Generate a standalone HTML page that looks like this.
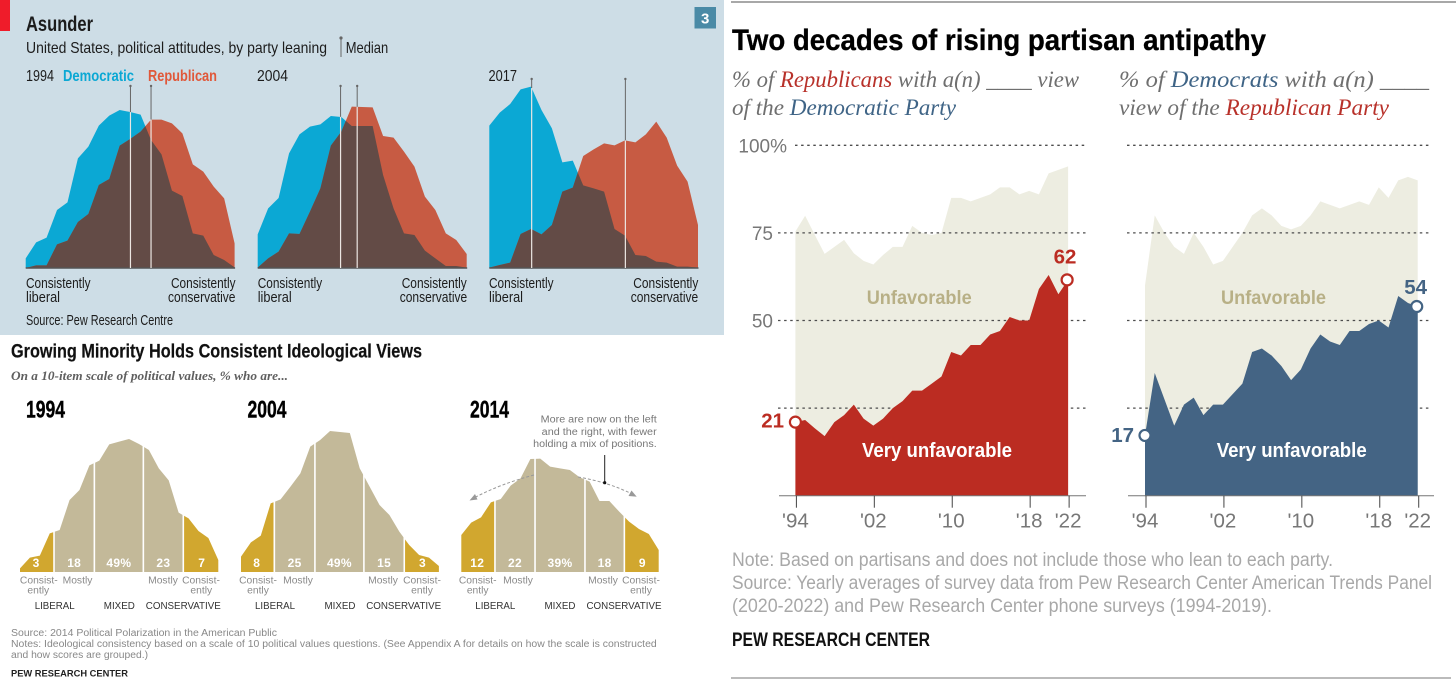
<!DOCTYPE html>
<html lang="en">
<head>
<meta charset="utf-8">
<title>Partisan polarization charts</title>
<style>
html,body{margin:0;padding:0;background:#fff;}
svg{display:block;position:absolute;left:0;top:0;}
.eco{font-family:"Liberation Sans Narrow","Liberation Sans",sans-serif;fill:#1c1c1c;}
.pew{font-family:"Liberation Sans",sans-serif;}
.sub{font-family:"Liberation Sans",sans-serif;font-size:10.3px;fill:#8a8a8a;text-anchor:middle;}
.cat{font-family:"Liberation Sans",sans-serif;font-size:9.8px;fill:#333;text-anchor:middle;}
.yr{font-family:"Liberation Sans Narrow","Liberation Sans",sans-serif;font-size:24px;font-weight:700;fill:#000;stroke:#000;stroke-width:0.4;}
.hd{font-family:"Liberation Serif",serif;font-style:italic;font-size:23px;fill:#6f6f6f;}
.note{font-family:"Liberation Sans Narrow","Liberation Sans",sans-serif;font-size:19px;fill:#a8a8a8;}
.lab{font-family:"Liberation Sans",sans-serif;}
</style>
</head>
<body>
<svg id="canvas" width="1456" height="679" viewBox="0 0 1456 679" xmlns="http://www.w3.org/2000/svg">
  <defs id="defs"></defs>

  <!-- Economist panel -->
  <rect x="0" y="0" width="724" height="335" fill="#cddde6"/>
  <rect x="0" y="0" width="10" height="31" fill="#ef1c2a"/>
  <rect x="694.5" y="7" width="21.5" height="21.5" fill="#4a8aa6"/>
  <text x="705.2" y="23.5" text-anchor="middle" class="eco" style="fill:#fff;font-weight:700;font-size:15px;">3</text>
  <text class="eco" x="26" y="31" font-size="21" font-weight="700" textLength="67" lengthAdjust="spacingAndGlyphs">Asunder</text>
  <text class="eco" x="26" y="53" font-size="16" textLength="301" lengthAdjust="spacingAndGlyphs">United States, political attitudes, by party leaning</text>
  <line x1="341" y1="38" x2="341" y2="57" stroke="#666" stroke-width="1"/>
  <circle cx="341" cy="38" r="1.6" fill="#666"/>
  <text class="eco" x="345.7" y="53" font-size="16" textLength="42.5" lengthAdjust="spacingAndGlyphs">Median</text>
  <text class="eco" x="26" y="81" font-size="16" textLength="28" lengthAdjust="spacingAndGlyphs">1994</text>
  <text class="eco" x="63" y="81" font-size="16" font-weight="700" textLength="71" lengthAdjust="spacingAndGlyphs" style="fill:#0ba8d4">Democratic</text>
  <text class="eco" x="148" y="81" font-size="16" font-weight="700" textLength="69" lengthAdjust="spacingAndGlyphs" style="fill:#e0583a">Republican</text>
  <text class="eco" x="257" y="81" font-size="16" textLength="31" lengthAdjust="spacingAndGlyphs">2004</text>
  <text class="eco" x="488.5" y="81" font-size="16" textLength="28.5" lengthAdjust="spacingAndGlyphs">2017</text>

  <g id="eco-marks"></g>

  <text class="eco" font-size="14.5" x="26" y="288" textLength="64.5" lengthAdjust="spacingAndGlyphs">Consistently</text>
  <text class="eco" font-size="14.5" x="26" y="302" textLength="34" lengthAdjust="spacingAndGlyphs">liberal</text>
  <text class="eco" font-size="14.5" x="171" y="288" textLength="64.5" lengthAdjust="spacingAndGlyphs">Consistently</text>
  <text class="eco" font-size="14.5" x="168" y="302" textLength="67.5" lengthAdjust="spacingAndGlyphs">conservative</text>
  <text class="eco" font-size="14.5" x="257.7" y="288" textLength="64.5" lengthAdjust="spacingAndGlyphs">Consistently</text>
  <text class="eco" font-size="14.5" x="257.7" y="302" textLength="34" lengthAdjust="spacingAndGlyphs">liberal</text>
  <text class="eco" font-size="14.5" x="401.7" y="288" textLength="65" lengthAdjust="spacingAndGlyphs">Consistently</text>
  <text class="eco" font-size="14.5" x="399.7" y="302" textLength="67.5" lengthAdjust="spacingAndGlyphs">conservative</text>
  <text class="eco" font-size="14.5" x="489" y="288" textLength="64.5" lengthAdjust="spacingAndGlyphs">Consistently</text>
  <text class="eco" font-size="14.5" x="489" y="302" textLength="34" lengthAdjust="spacingAndGlyphs">liberal</text>
  <text class="eco" font-size="14.5" x="633.3" y="288" textLength="65" lengthAdjust="spacingAndGlyphs">Consistently</text>
  <text class="eco" font-size="14.5" x="630.7" y="302" textLength="67.5" lengthAdjust="spacingAndGlyphs">conservative</text>
  <text class="eco" font-size="14.5" x="26" y="325" textLength="147" lengthAdjust="spacingAndGlyphs">Source: Pew Research Centre</text>

  <!-- Pew ideological panel -->
  <text x="11" y="357.5" font-family="'Liberation Sans Narrow','Liberation Sans',sans-serif" font-size="19" font-weight="700" fill="#111" stroke="#111" stroke-width="0.2" textLength="411" lengthAdjust="spacingAndGlyphs">Growing Minority Holds Consistent Ideological Views</text>
  <text x="11" y="380" font-family="'Liberation Serif',serif" font-style="italic" font-weight="700" font-size="12.5" fill="#5f5f5f" textLength="277" lengthAdjust="spacingAndGlyphs">On a 10-item scale of political values, % who are...</text>
  <text class="yr" x="26" y="417.5" textLength="39" lengthAdjust="spacingAndGlyphs">1994</text>
  <text class="yr" x="247.5" y="417.5" textLength="39" lengthAdjust="spacingAndGlyphs">2004</text>
  <text class="yr" x="470" y="417.5" textLength="39" lengthAdjust="spacingAndGlyphs">2014</text>

  <g id="ideo-marks"></g>

  <text class="pew" x="656.7" y="422.5" font-size="10" fill="#777" text-anchor="end" textLength="116" lengthAdjust="spacingAndGlyphs">More are now on the left</text>
  <text class="pew" x="656.7" y="435" font-size="10" fill="#777" text-anchor="end" textLength="115" lengthAdjust="spacingAndGlyphs">and the right, with fewer</text>
  <text class="pew" x="656.7" y="447" font-size="10" fill="#777" text-anchor="end" textLength="123.5" lengthAdjust="spacingAndGlyphs">holding a mix of positions.</text>
  <path d="M534 475 Q500 484 474 498" fill="none" stroke="#999" stroke-width="1" stroke-dasharray="3 2"/>
  <polygon points="469.5,500.5 475,494 477.5,499.5" fill="#999"/>
  <path d="M578 477 Q608 482 632 494" fill="none" stroke="#999" stroke-width="1" stroke-dasharray="3 2"/>
  <polygon points="636.7,496.7 628.5,496 631.5,490.5" fill="#999"/>
  <line x1="604.7" y1="455" x2="604.7" y2="482.7" stroke="#222" stroke-width="1"/>
  <circle cx="604.7" cy="482.7" r="1.6" fill="#111"/>

  <g>
    <text class="sub" x="38.8" y="583.5">Consist-</text>
    <text class="sub" x="38.3" y="593.5">ently</text>
    <text class="sub" x="77.5" y="583.5">Mostly</text>
    <text class="sub" x="163" y="583.5">Mostly</text>
    <text class="sub" x="201" y="583.5">Consist-</text>
    <text class="sub" x="201.3" y="593.5">ently</text>
    <text class="cat" x="54.7" y="609" textLength="40" lengthAdjust="spacingAndGlyphs">LIBERAL</text>
    <text class="cat" x="119.3" y="609" textLength="31" lengthAdjust="spacingAndGlyphs">MIXED</text>
    <text class="cat" x="183.3" y="609" textLength="75" lengthAdjust="spacingAndGlyphs">CONSERVATIVE</text>
  </g>
  <g>
    <text class="sub" x="258" y="583.5">Consist-</text>
    <text class="sub" x="258" y="593.5">ently</text>
    <text class="sub" x="298" y="583.5">Mostly</text>
    <text class="sub" x="383" y="583.5">Mostly</text>
    <text class="sub" x="422" y="583.5">Consist-</text>
    <text class="sub" x="422" y="593.5">ently</text>
    <text class="cat" x="275" y="609" textLength="40" lengthAdjust="spacingAndGlyphs">LIBERAL</text>
    <text class="cat" x="340" y="609" textLength="31" lengthAdjust="spacingAndGlyphs">MIXED</text>
    <text class="cat" x="403.7" y="609" textLength="75" lengthAdjust="spacingAndGlyphs">CONSERVATIVE</text>
  </g>
  <g>
    <text class="sub" x="477.7" y="583.5">Consist-</text>
    <text class="sub" x="477.7" y="593.5">ently</text>
    <text class="sub" x="518" y="583.5">Mostly</text>
    <text class="sub" x="603" y="583.5">Mostly</text>
    <text class="sub" x="641" y="583.5">Consist-</text>
    <text class="sub" x="641" y="593.5">ently</text>
    <text class="cat" x="495.3" y="609" textLength="40" lengthAdjust="spacingAndGlyphs">LIBERAL</text>
    <text class="cat" x="560" y="609" textLength="31" lengthAdjust="spacingAndGlyphs">MIXED</text>
    <text class="cat" x="624" y="609" textLength="75" lengthAdjust="spacingAndGlyphs">CONSERVATIVE</text>
  </g>

  <text class="pew" x="11" y="636" font-size="10" fill="#888" textLength="266" lengthAdjust="spacingAndGlyphs">Source: 2014 Political Polarization in the American Public</text>
  <text class="pew" x="11" y="647" font-size="10" fill="#888" textLength="645.7" lengthAdjust="spacingAndGlyphs">Notes: Ideological consistency based on a scale of 10 political values questions. (See Appendix A for details on how the scale is constructed</text>
  <text class="pew" x="11" y="658" font-size="10" fill="#888" textLength="137" lengthAdjust="spacingAndGlyphs">and how scores are grouped.)</text>
  <text class="pew" x="11" y="676.7" font-size="9.5" font-weight="700" fill="#222" textLength="117" lengthAdjust="spacingAndGlyphs">PEW RESEARCH CENTER</text>

  <!-- Antipathy panel -->
  <rect x="731" y="1" width="725" height="2" fill="#a8a8a8"/>
  <text x="732" y="50" font-family="'Liberation Sans Narrow','Liberation Sans',sans-serif" font-weight="700" font-size="30" fill="#000" stroke="#000" stroke-width="0.3" textLength="534" lengthAdjust="spacingAndGlyphs">Two decades of rising partisan antipathy</text>
  <text class="hd" x="732" y="87" textLength="347" lengthAdjust="spacingAndGlyphs">% of <tspan fill="#b8312a">Republicans</tspan> with a(n) ____ view</text>
  <text class="hd" x="732" y="115" textLength="224" lengthAdjust="spacingAndGlyphs">of the <tspan fill="#3f6486">Democratic Party</tspan></text>
  <text class="hd" x="1119" y="87" textLength="310" lengthAdjust="spacingAndGlyphs">% of <tspan fill="#3f6486">Democrats</tspan> with a(n) ____</text>
  <text class="hd" x="1119" y="115" textLength="270" lengthAdjust="spacingAndGlyphs">view of the <tspan fill="#b8312a">Republican Party</tspan></text>

  <g id="rep-chart"></g>
  <g id="dem-chart"></g>

  <text class="lab" x="866.7" y="304" font-size="19.5" font-weight="700" fill="#b8b086" textLength="105" lengthAdjust="spacingAndGlyphs">Unfavorable</text>
  <text class="lab" x="1221" y="304" font-size="19.5" font-weight="700" fill="#b8b086" textLength="105" lengthAdjust="spacingAndGlyphs">Unfavorable</text>
  <text class="lab" x="862" y="457" font-size="20" font-weight="700" fill="#fff" textLength="150" lengthAdjust="spacingAndGlyphs">Very unfavorable</text>
  <text class="lab" x="1216.7" y="457" font-size="20" font-weight="700" fill="#fff" textLength="150" lengthAdjust="spacingAndGlyphs">Very unfavorable</text>

  <text class="note" x="732" y="566" textLength="601" lengthAdjust="spacingAndGlyphs">Note: Based on partisans and does not include those who lean to each party.</text>
  <text class="note" x="732" y="589" textLength="700" lengthAdjust="spacingAndGlyphs">Source: Yearly averages of survey data from Pew Research Center American Trends Panel</text>
  <text class="note" x="732" y="612" textLength="540" lengthAdjust="spacingAndGlyphs">(2020-2022) and Pew Research Center phone surveys (1994-2019).</text>
  <text x="732" y="646" font-family="'Liberation Sans Narrow','Liberation Sans',sans-serif" font-size="19" font-weight="700" fill="#111" textLength="198" lengthAdjust="spacingAndGlyphs">PEW RESEARCH CENTER</text>
  <rect x="731" y="677" width="720" height="2" fill="#bbb"/>
</svg>

<script>
// Economist chart: share of respondents (%) at each of 21 positions on the ideology scale
const dem1994 = [0.58,1.54,1.82,3.48,3.94,6.58,7.28,8.54,9.14,9.48,9.36,9.2,7.68,6.82,4.64,4.32,2.08,1.94,0.78,0.48,0.04];
const rep1994 = [0,0.16,0.16,1.42,1.64,2.76,3.24,4.98,5.34,7.34,7.74,8.18,8.9,8.9,8.68,8.08,6.22,5.78,4.88,4.18,1.48];
const dem2004 = [2.02,3.58,4.2,6.88,8.02,8.48,8.62,9.12,9.06,8.52,8.52,8.52,5.58,3.58,2.08,1.98,1.04,0.58,0.12,0.12,0.02];
const rep2004 = [0.02,0.58,0.98,2.08,2.04,3.38,4.78,7.34,8.18,9.68,9.66,9.64,7.92,7.82,6.98,6.08,4.28,3.48,2.08,1.68,0.84];
const dem2017 = [8.54,9.32,9.84,10.72,10.88,9.48,8.38,6.34,6.44,4.96,4.78,4.58,2.34,1.94,0.78,0.72,0.38,0.32,0.08,0.08,0.02];
const rep2017 = [0.02,0.18,0.32,2.04,2.34,2.02,2.58,4.58,4.82,6.72,7.12,7.48,7.36,7.66,7.54,8.02,8.78,7.82,6.14,5.18,2.58];
const medians1994 = [10.03,12.0];
const medians2004 = [7.93,9.52];
const medians2017 = [4.06,13.04];

// Pew ideology chart: distribution on the same 21-step scale and the printed group shares
const ideo1994 = [0.22,0.86,0.98,2.32,2.52,4.32,4.92,6.4,6.68,7.66,7.82,7.98,7.68,7.32,6.22,5.5,3.56,3.22,2.46,2.04,0.72];
const ideo2004 = [0.92,1.78,2.18,4.12,4.36,5.12,5.92,7.52,7.92,8.46,8.4,8.34,6.22,5.12,4.02,3.42,2.42,1.62,1.02,0.86,0.36];
const ideo2014 = [2.22,2.96,3.28,4.18,4.38,5.18,5.62,6.78,6.8,6.32,6.22,6.12,5.68,5.42,4.26,4.26,3.62,3.02,2.58,2.28,1.32];
const splits1994 = [3.43,7.5,12.44,16.47];
const splits2004 = [3.37,7.47,12.42,16.5];
const splits2014 = [3.41,7.47,12.53,16.52];
const shares1994 = ['3','18','49%','23','7'];
const shares2004 = ['8','25','49%','15','3'];
const shares2014 = ['12','22','39%','18','9'];

// Pew antipathy chart: yearly values 1994-2022
const years = [1994,1995,1996,1997,1998,1999,2000,2001,2002,2003,2004,2005,2006,2007,2008,2009,2010,2011,2012,2013,2014,2015,2016,2017,2018,2019,2020,2021,2022];
const repUnfav = [75.4,79.9,74.4,69,71,73,69.2,67,66,68.7,71,71,77,75,74.4,75,85,85,84,85,86,88,88,86,87,86,92,93,94];
const repVery = [21,21.6,19.2,17,21,23,26,22,20,22,25,27,30,30,32,34,41,40,43,43,46,47,51,50,50,59,63,57.5,61.6];
const demUnfav = [60,80,75,71,69,75,71,66,67,71,75,80,82,80,77,76,77,80,84,83,82,83,84,83,88,85,90,91,90];
const demVery = [17.2,35,27.5,20,26,28,23,26,26,29,32,41,42,40,37,33,36,42,46,44,43,47,47,49,50,48,57,55,54];
const yTicks = [100,75,50,25];
const yLabels = ['100%','75','50',''];
const xTickYears = [1994,2002,2010,2018,2022];
const xTickLabels = ["'94","'02","'10","'18","'22"];
const NS = 'http://www.w3.org/2000/svg';
const defs = document.getElementById('defs');

function make(tag, parent, attrs){
  const el = document.createElementNS(NS, tag);
  for (const k in attrs) el.setAttribute(k, attrs[k]);
  parent.appendChild(el);
  return el;
}
function areaPath(vals, xf, yf, base){
  let d = 'M' + xf(0).toFixed(2) + ' ' + base;
  vals.forEach(function(v,i){ d += 'L' + xf(i).toFixed(2) + ' ' + yf(v).toFixed(2); });
  d += 'L' + xf(vals.length-1).toFixed(2) + ' ' + base + 'Z';
  return d;
}
function interp(vals, p){
  const a = Math.floor(p), b = Math.min(vals.length-1, a+1);
  return vals[a] + (vals[b]-vals[a])*(p-a);
}

/* ---------- Economist panels ---------- */
const ecoRoot = document.getElementById('eco-marks');
function drawEco(year, dem, rep, medians, x0, x1, medTop){
  const base = 268;
  const unit = 16.667;
  const xf = function(i){ return x0 + i*(x1-x0)/20; };
  const yf = function(v){ return base - v*unit; };
  const demPath = areaPath(dem, xf, yf, base);
  const repPath = areaPath(rep, xf, yf, base);

  const a1 = make('path', ecoRoot, {d: demPath, fill: '#0ba8d4'});
  
  

  const a2 = make('path', ecoRoot, {d: repPath, fill: '#c75b43'});
  
  

  const cp = make('clipPath', defs, {id: 'clip-dem-' + year});
  make('path', cp, {d: demPath});
  const a3 = make('path', ecoRoot, {d: repPath, fill: '#634b46', 'clip-path': 'url(#clip-dem-' + year + ')'});
  
  

  const ax = make('line', ecoRoot, {x1: x0, x2: x1+0.5, y1: base, y2: base, stroke: '#555', 'stroke-width': 1.4});
  
  

  medians.forEach(function(m, k){
    const x = xf(m);
    const topV = Math.max(interp(dem, m), interp(rep, m));
    const dark = make('line', ecoRoot, {x1: x, x2: x, y1: medTop, y2: yf(topV), stroke: '#666', 'stroke-width': 1});
    
    

    const light = make('line', ecoRoot, {x1: x, x2: x, y1: yf(topV), y2: base, stroke: '#ece6e2', 'stroke-width': 1.2});
    
    

    const dot = make('circle', ecoRoot, {cx: x, cy: medTop, r: 1.2, fill: '#666'});
    
    
  });
}
drawEco(1994, dem1994, rep1994, medians1994, 25.7, 234.6, 86);
drawEco(2004, dem2004, rep2004, medians2004, 257.7, 466.7, 86);
drawEco(2017, dem2017, rep2017, medians2017, 489.3, 698, 79);

/* ---------- Pew ideology panels ---------- */
const ideoRoot = document.getElementById('ideo-marks');
function drawIdeo(year, vals, splits, shares, x0, x1){
  const base = 572;
  const unit = 16.667;
  const xf = function(i){ return x0 + i*(x1-x0)/20; };
  const yf = function(v){ return base - v*unit; };
  const d = areaPath(vals, xf, yf, base);
  const edges = [0].concat(splits, [20]);
  for (let s = 0; s < 5; s++){
    const left = xf(edges[s]) + (s ? 0.8 : -1);
    const right = xf(edges[s+1]) - (s < 4 ? 0.8 : -1);
    const cp = make('clipPath', defs, {id: 'clip-ideo-' + year + '-' + s});
    make('rect', cp, {x: left, y: 400, width: right-left, height: 200});
    const seg = make('path', ideoRoot, {d: d, fill: (s === 0 || s === 4) ? '#d1a72f' : '#c3b999', 'clip-path': 'url(#clip-ideo-' + year + '-' + s + ')'});
    
    

    const label = make('text', ideoRoot, {x: (left+right)/2, y: base-5, 'text-anchor': 'middle', fill: '#fff', 'font-family': 'Liberation Sans, sans-serif', 'font-size': '12', 'font-weight': '700', 'letter-spacing': '0.3'});
    
    
    label.textContent = shares[s];
  }
}
drawIdeo(1994, ideo1994, splits1994, shares1994, 20, 218.3);
drawIdeo(2004, ideo2004, splits2004, shares2004, 241, 438.9);
drawIdeo(2014, ideo2014, splits2014, shares2014, 461.3, 658.7);

/* ---------- Pew antipathy panels ---------- */
const yBase = 495.7;
const yUnit = 3.504;
function yScale(v){ return yBase - v*yUnit; }

function drawPartisan(rootId, prefix, unfav, very, color, x0, gridX0, gridTopX0, gridX1, axisX0, axisX1, showLabels, firstText, lastText, firstLabelX, firstLabelDy, lastLabelX, lastLabelDy){
  const root = document.getElementById(rootId);
  const step = 9.74;
  const xYear = function(y){ return x0 + (y-years[0])*step; };
  const xIdx = function(i){ return xYear(years[i]); };

  const un = make('path', root, {d: areaPath(unfav, xIdx, yScale, yBase), fill: '#edede1'});
  
  

  yTicks.forEach(function(t, k){
    const g = make('line', root, {x1: k === 0 ? gridTopX0 : gridX0, x2: gridX1, y1: yScale(t), y2: yScale(t), stroke: '#4d4d4d', 'stroke-width': 1.3, 'stroke-dasharray': '2.5 3.6'});
    
    
    if (showLabels && yLabels[k]){
      const lab = make('text', root, {x: k === 0 ? 787 : 773, y: yScale(t)+7, 'text-anchor': 'end', fill: '#777', 'font-family': 'Liberation Sans, sans-serif', 'font-size': '19'});
      
      
      lab.textContent = yLabels[k];
    }
  });

  const vu = make('path', root, {d: areaPath(very, xIdx, yScale, yBase), fill: color});
  
  

  const axis = make('line', root, {x1: axisX0, x2: axisX1, y1: yBase, y2: yBase, stroke: '#777', 'stroke-width': 1});
  
  

  xTickYears.forEach(function(y, k){
    const tx = xYear(y) + 1;
    const tick = make('line', root, {x1: tx, x2: tx, y1: yBase, y2: yBase+12, stroke: '#444', 'stroke-width': 1});
    
    

    const lab = make('text', root, {x: tx - 1, y: 527.5, 'text-anchor': 'middle', fill: '#777', 'font-family': 'Liberation Sans, sans-serif', 'font-size': '20.5'});
    
    
    lab.textContent = xTickLabels[k];
  });

  const last = very.length - 1;
  const m1 = make('circle', root, {cx: xIdx(0), cy: yScale(very[0]), r: 5.5, fill: '#fff', stroke: color, 'stroke-width': 2.2});
  
  

  const m2 = make('circle', root, {cx: xIdx(last)-1, cy: yScale(very[last]), r: 5.5, fill: '#fff', stroke: color, 'stroke-width': 2.2});
  
  

  const t1 = make('text', root, {x: firstLabelX, y: yScale(very[0])+firstLabelDy, 'text-anchor': 'end', fill: color, 'font-family': 'Liberation Sans, sans-serif', 'font-size': '20.5', 'font-weight': '700'});
  
  
  t1.textContent = firstText;

  const t2 = make('text', root, {x: lastLabelX, y: yScale(very[last])+lastLabelDy, 'text-anchor': 'middle', fill: color, 'font-family': 'Liberation Sans, sans-serif', 'font-size': '20.5', 'font-weight': '700'});
  
  
  t2.textContent = lastText;
}
drawPartisan('rep-chart', 'republican-view', repUnfav, repVery, '#bb2c22', 795.4, 778, 795, 1086, 779, 1086, true, '21', '62', 784, 5.5, 1065, -16.5);
drawPartisan('dem-chart', 'democrat-view', demUnfav, demVery, '#446484', 1145, 1127, 1127, 1432, 1128, 1434, false, '17', '54', 1134, 6.5, 1415.7, -12.5);
</script>
</body>
</html>
